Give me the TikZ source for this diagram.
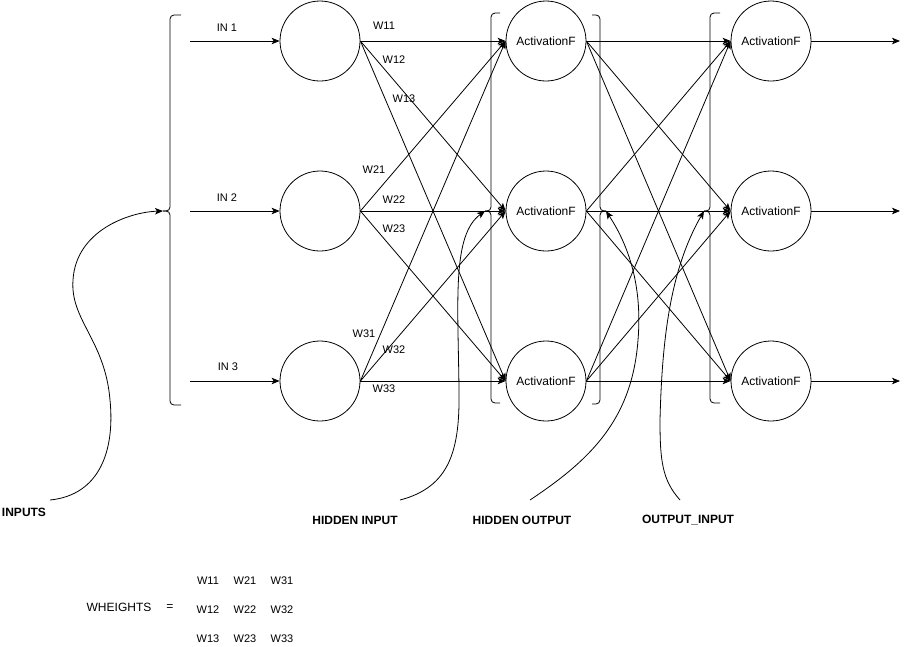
\documentclass[tikz,border=0pt]{standalone}
\usepackage{fontspec}
\setmainfont{Liberation Sans}
\usetikzlibrary{arrows.meta}
\begin{document}
\begin{tikzpicture}[x=1pt,y=-1pt,
  line width=0.8pt,
  neuron/.style={circle,draw,minimum size=80pt,inner sep=0pt,font=\fontsize{12}{14}\selectfont},
  arr/.style={-{Stealth[length=8pt,width=6.5pt,inset=2pt]}},
  wl/.style={font=\fontsize{11}{13}\selectfont,inner sep=0pt},
  nl/.style={font=\fontsize{12}{14}\selectfont,inner sep=0pt},
  bl/.style={font=\fontsize{12}{14}\selectfont\bfseries,inner sep=0pt},
  bracestyle/.style={rounded corners=4pt}]
\useasboundingbox (0,0) rectangle (909,646);

% neurons
\foreach \k/\y in {1/41,2/211,3/381}{
  \node[neuron] (i\k) at (320,\y) {};
  \node[neuron] (h\k) at (546,\y) {ActivationF};
  \node[neuron] (o\k) at (771,\y) {ActivationF};
  \coordinate (s\k) at (190,\y);
  \coordinate (e\k) at (900,\y);
}

% input arrows
\foreach \k in {1,2,3}{
  \draw[arr] (s\k) -- (i\k.west);
  \draw[arr] (o\k.east) -- (e\k);
}
\node[wl] at (227,28) {IN 1};
\node[wl] at (227,198) {IN 2};
\node[wl] at (228,367) {IN 3};

% layer connections
\foreach \a in {1,2,3}{
  \foreach \b in {1,2,3}{
    \draw[arr] (i\a.east) -- (h\b.west);
    \draw[arr] (h\a.east) -- (o\b.west);
  }
}

% weight labels
\node[wl] at (384,26) {W11};
\node[wl] at (394,60) {W12};
\node[wl] at (404,99) {W13};
\node[wl] at (374,170) {W21};
\node[wl] at (394,200) {W22};
\node[wl] at (394,229) {W23};
\node[wl] at (364,334) {W31};
\node[wl] at (394,350) {W32};
\node[wl] at (384,389) {W33};

% braces
\coordinate (bi) at (163,211);
\coordinate (bh) at (485,211);
\coordinate (bho) at (606,211);
\coordinate (bo) at (704,211);
\draw[bracestyle] (181,15) -- (170,15) -- (170,211) -- (bi);
\draw[bracestyle] (bi) -- (170,211) -- (170,405) -- (181,405);
\draw[bracestyle] (500,13) -- (491,13) -- (491,211) -- (bh);
\draw[bracestyle] (bh) -- (491,211) -- (491,403) -- (500,403);
\draw[bracestyle] (592,15) -- (600,15) -- (600,211) -- (bho);
\draw[bracestyle] (bho) -- (600,211) -- (600,404) -- (592,404);
\draw[bracestyle] (720,13) -- (710,13) -- (710,211) -- (bo);
\draw[bracestyle] (bo) -- (710,211) -- (710,403) -- (720,403);

% annotation curves
\coordinate (cIn) at (50,500);
\coordinate (cHI) at (400,500);
\coordinate (cHO) at (530,500);
\coordinate (cOI) at (680,500);
\draw[arr] (cIn) .. controls (100,495) and (115,450) .. (110,400)
  .. controls (105,340) and (70,320) .. (73,280)
  .. controls (76,230) and (130,212) .. (bi);
\draw[arr] (cHI) .. controls (450,487) and (460,450) .. (459,390)
  .. controls (458,300) and (452,235) .. (bh);
\draw[arr] (cHO) .. controls (590,460) and (632,420) .. (638,340)
  .. controls (643,280) and (625,240) .. (bho);
\draw[arr] (cOI) .. controls (662,480) and (660,460) .. (660,420)
  .. controls (662,340) and (670,270) .. (bo);

\node[bl] at (24,512) {INPUTS};
\node[bl] at (355,520) {HIDDEN INPUT};
\node[bl] at (522,520) {HIDDEN OUTPUT};
\node[bl] at (688,520) {OUTPUT\_INPUT};

% weights matrix
\node[nl] at (119,607) {WHEIGHTS};
\node[nl] at (170,608) {=};
\node[wl] at (208,581) {W11};
\node[wl] at (245,581) {W21};
\node[wl] at (282,581) {W31};
\node[wl] at (208,610) {W12};
\node[wl] at (245,610) {W22};
\node[wl] at (282,610) {W32};
\node[wl] at (208,639) {W13};
\node[wl] at (245,639) {W23};
\node[wl] at (282,639) {W33};
\end{tikzpicture}
\end{document}
